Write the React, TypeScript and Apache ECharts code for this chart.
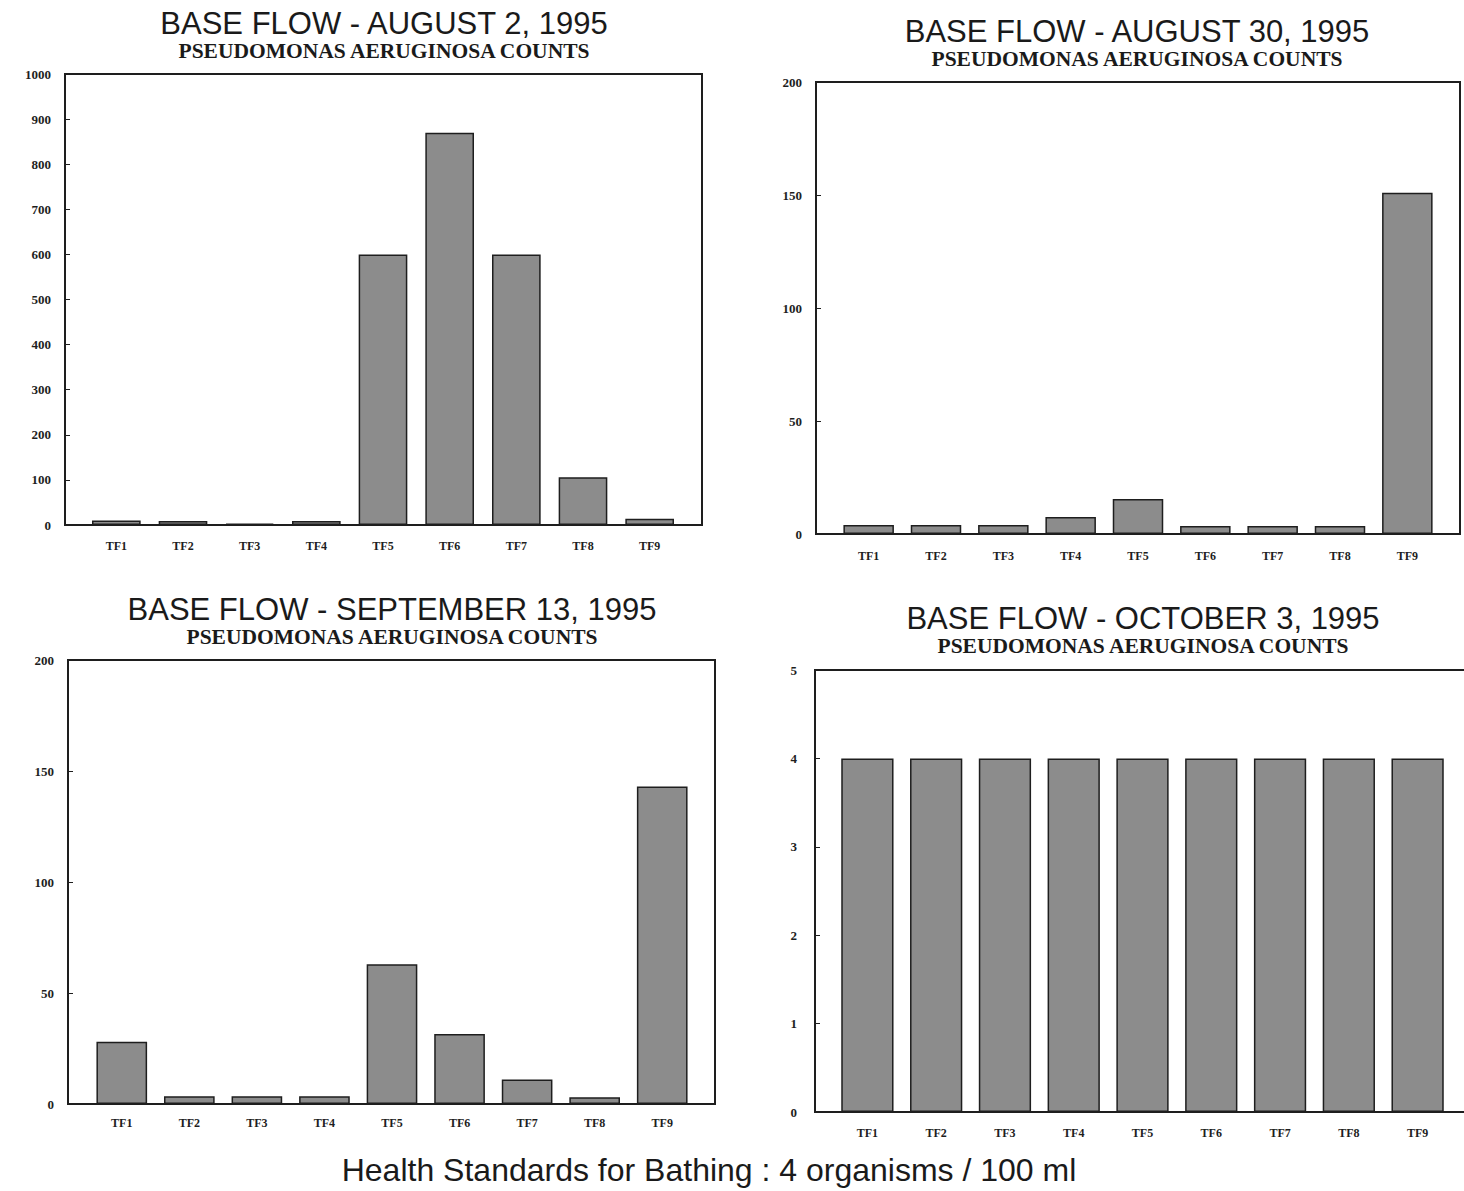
import React, { useEffect, useRef } from "react";
import * as echarts from "echarts";

const categories = ["TF1", "TF2", "TF3", "TF4", "TF5", "TF6", "TF7", "TF8", "TF9"];

const titles = [
  "BASE FLOW - AUGUST 2, 1995",
  "BASE FLOW - AUGUST 30, 1995",
  "BASE FLOW - SEPTEMBER 13, 1995",
  "BASE FLOW - OCTOBER 3, 1995",
];
const subtitle = "PSEUDOMONAS AERUGINOSA COUNTS";
const footer = "Health Standards for Bathing : 4 organisms / 100 ml";

const aug2 = [10, 9, 3, 9, 600, 870, 600, 106, 14];
const aug30 = [4, 4, 4, 7.5, 15.5, 3.5, 3.5, 3.5, 151];
const sep13 = [28, 3.5, 3.5, 3.5, 63, 31.5, 11, 3, 143];
const oct3 = [4, 4, 4, 4, 4, 4, 4, 4, 4];

const yMax = [1000, 200, 200, 5];
const yStep = [100, 50, 50, 1];

// layout: grid (category band) and frame boxes
const grids = [
  { left: 83, top: 74, width: 600, height: 451 },
  { left: 835, top: 82, width: 606, height: 452 },
  { left: 88, top: 660, width: 608, height: 444 },
  { left: 833, top: 670, width: 619, height: 442 },
];
const frames = [
  { x: 65, y: 74, w: 637, h: 451 },
  { x: 816, y: 82, w: 644, h: 452 },
  { x: 68, y: 660, w: 647, h: 444 },
  { x: 815, y: 670, w: 670, h: 442 },
];
const titlePos = [
  { x: 384, y: 23, sy: 51 },
  { x: 1137, y: 31, sy: 59 },
  { x: 392, y: 609, sy: 637 },
  { x: 1143, y: 618, sy: 646 },
];
const barWidths = ["73%", "75%", "75%", "76%"];
const labelMargins = [14, 14, 14, 18];
const xLabelMargins = [15, 16, 13, 15];

export default function App() {
  const ref = useRef<HTMLDivElement>(null);
  useEffect(() => {
    if (!ref.current) return;
    const chart = echarts.init(ref.current, null, { renderer: "svg" });
    const data = [aug2, aug30, sep13, oct3];
    const ink = "#1e1e1e";
    const graphics: any[] = [];
    frames.forEach((f) => {
      graphics.push({
        type: "rect",
        z: 100,
        shape: { x: f.x, y: f.y, width: f.w, height: f.h },
        style: { fill: "none", stroke: ink, lineWidth: 2 },
      });
    });
    titlePos.forEach((p, i) => {
      graphics.push({
        type: "text",
        x: p.x,
        y: p.y,
        style: {
          text: titles[i],
          fill: "#1a1a1a",
          font: "31px 'Liberation Sans', Arial, sans-serif",
          textAlign: "center",
          textVerticalAlign: "middle",
        },
      });
      graphics.push({
        type: "text",
        x: p.x,
        y: p.sy,
        style: {
          text: subtitle,
          fill: "#1a1a1a",
          font: "bold 21.5px 'Liberation Serif', 'Times New Roman', serif",
          textAlign: "center",
          textVerticalAlign: "middle",
        },
      });
    });
    graphics.push({
      type: "text",
      x: 709,
      y: 1170,
      style: {
        text: footer,
        fill: "#1a1a1a",
        font: "32px 'Liberation Sans', Arial, sans-serif",
        textAlign: "center",
        textVerticalAlign: "middle",
      },
    });

    chart.setOption({
      animation: false,
      backgroundColor: "#ffffff",
      grid: grids.map((g) => ({ ...g, containLabel: false, show: false })),
      xAxis: grids.map((_, i) => ({
        type: "category",
        gridIndex: i,
        data: categories,
        axisLine: { show: false },
        axisTick: { show: false },
        axisLabel: {
          color: ink,
          fontFamily: "'Liberation Serif', 'Times New Roman', serif",
          fontWeight: "bold",
          fontSize: 12,
          margin: xLabelMargins[i],
        },
      })),
      yAxis: grids.map((g, i) => ({
        type: "value",
        gridIndex: i,
        min: 0,
        max: yMax[i],
        interval: yStep[i],
        offset: g.left - frames[i].x,
        splitLine: { show: false },
        axisLine: { show: false },
        axisTick: { show: true, inside: true, length: 5, lineStyle: { color: ink } },
        axisLabel: {
          color: ink,
          fontFamily: "'Liberation Serif', 'Times New Roman', serif",
          fontWeight: "bold",
          fontSize: 13,
          margin: labelMargins[i],
          formatter: (v: number) => String(v),
        },
      })),
      series: data.map((d, i) => ({
        type: "bar",
        xAxisIndex: i,
        yAxisIndex: i,
        data: d,
        barWidth: barWidths[i],
        itemStyle: { color: "#8c8c8c", borderColor: ink, borderWidth: 1.5 },
      })),
      graphic: graphics,
    });
    return () => chart.dispose();
  }, []);
  return (
    <div
      ref={ref}
      style={{ position: "absolute", left: 0, top: 0, width: 1464, height: 1191, background: "#fff" }}
    />
  );
}
